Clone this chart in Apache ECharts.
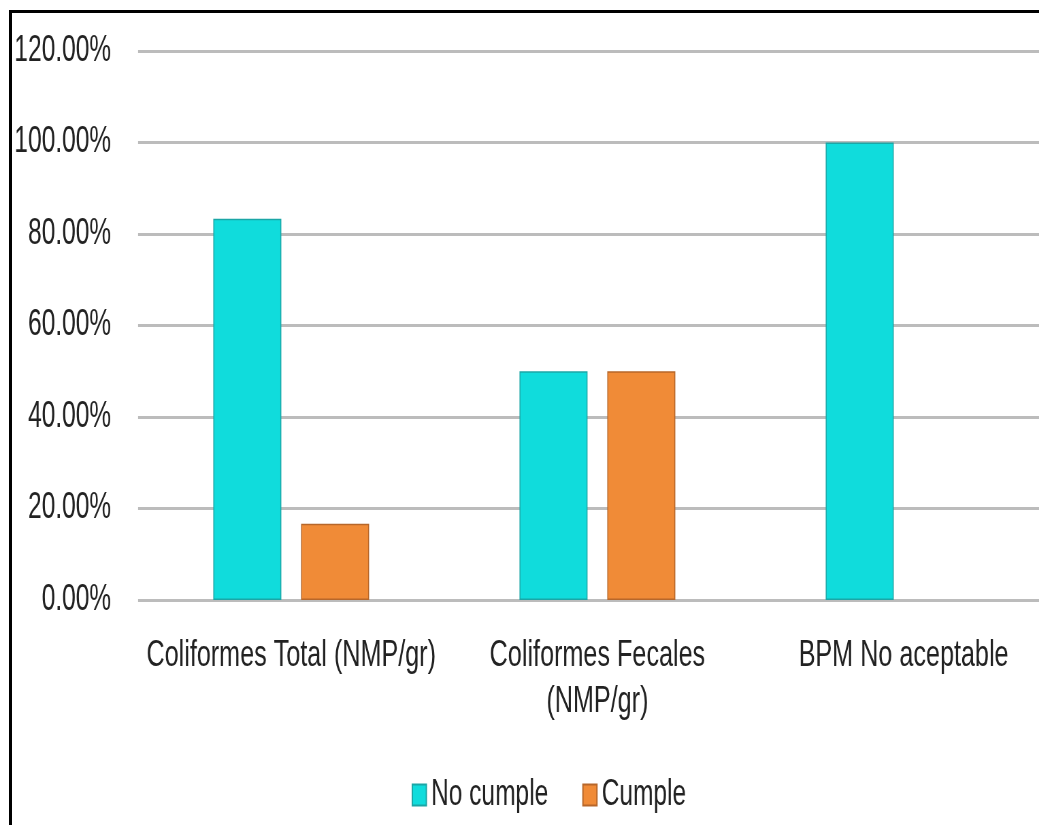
<!DOCTYPE html>
<html>
<head>
<meta charset="utf-8">
<script src="https://cdn.jsdelivr.net/npm/echarts@6/dist/echarts.min.js"></script>
<style>
  html, body { margin: 0; padding: 0; background: #fff; overflow: hidden; width: 1039px; height: 825px; }
  #frame { position: absolute; left: 9px; top: 10px; width: 1100px; height: 900px;
           border-left: 3px solid #000; border-top: 3px solid #000; pointer-events: none; z-index: 2; }
  /* the chart is laid out wide and condensed horizontally, giving tall narrow lettering */
  #chart { position: absolute; left: 0; top: 0; height: 825px; transform-origin: 0 0; }
</style>
</head>
<body>
<div id="chart"></div>
<div id="frame"></div>
<script>
const categories = ['Coliformes Total (NMP/gr)', 'Coliformes Fecales\n(NMP/gr)', 'BPM No aceptable'];
const seriesNames = ['No cumple', 'Cumple'];
const noCumple = [83.33, 50, 100];
const cumple = [16.67, 50, 0];
const yTicks = { min: 0, max: 120, step: 20 };

const SX = 0.68;               // horizontal condensing factor
const W = 1039 / SX;
const px = v => v / SX;        // convert a final horizontal pixel offset to layout units

const el = document.getElementById('chart');
el.style.width = W + 'px';
el.style.transform = 'scaleX(' + SX + ')';

const chart = echarts.init(el, null, { renderer: 'canvas', width: W, height: 825 });
const font = "'Liberation Sans', Arial, sans-serif";

// empty bars get no outline so a zero value leaves no mark
const withOutline = vals => vals.map(v => v === 0 ? { value: v, itemStyle: { borderWidth: 0, opacity: 0 } } : v);

chart.setOption({
  animation: false,
  backgroundColor: 'transparent',
  grid: { left: px(138), width: px(918), top: 51, height: 549, containLabel: false, outerBoundsMode: 'none' },
  legend: {
    data: seriesNames,
    left: px(408),
    top: 772,
    itemWidth: px(14),
    itemHeight: 21,
    itemGap: px(34),
    icon: 'rect',
    textStyle: { fontFamily: font, fontSize: 36, color: '#222', padding: [0, 0, 0, 2] }
  },
  xAxis: {
    type: 'category',
    data: categories,
    axisLine: { show: false },
    axisTick: { show: false },
    axisLabel: { fontFamily: font, fontSize: 37, color: '#222', margin: 33, lineHeight: 46, interval: 0 }
  },
  yAxis: {
    type: 'value',
    min: yTicks.min,
    max: yTicks.max,
    interval: yTicks.step,
    axisLine: { show: false },
    axisTick: { show: false },
    axisLabel: {
      fontFamily: font, fontSize: 36, color: '#222', margin: px(27),
      formatter: v => v.toFixed(2) + '%'
    },
    splitLine: { lineStyle: { color: '#bcbcbc', width: 3 } }
  },
  series: [
    {
      name: seriesNames[0],
      type: 'bar',
      data: withOutline(noCumple),
      barWidth: px(68),
      barGap: '29%',
      itemStyle: { color: '#10dcdc', borderColor: '#1ba6a6', borderWidth: 1.5 }
    },
    {
      name: seriesNames[1],
      type: 'bar',
      data: withOutline(cumple),
      barWidth: px(68),
      itemStyle: { color: '#f08b37', borderColor: '#b7672a', borderWidth: 1.5 }
    }
  ]
});
</script>
</body>
</html>
